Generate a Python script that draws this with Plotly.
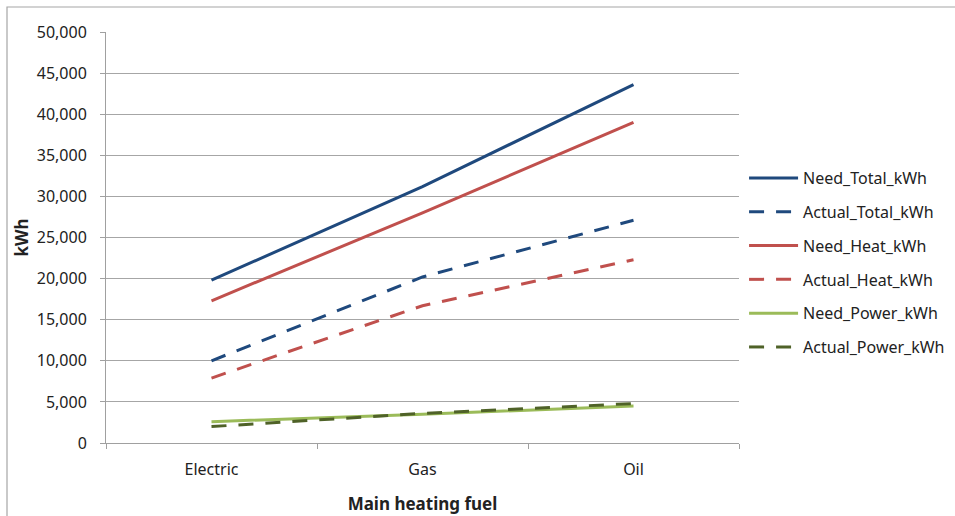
import plotly.graph_objects as go

# ── data ──────────────────────────────────────────────────────────────────────
fuels = ['Electric', 'Gas', 'Oil']

need_total   = [19800, 31200, 43600]
actual_total = [10000, 20200, 27100]
need_heat    = [17300, 28000, 39000]
actual_heat  = [7900, 16700, 22300]
need_power   = [2600, 3500, 4500]
actual_power = [2000, 3600, 4800]

series = [
    ('Need_Total_kWh',   need_total,   '#1F497D', 'solid'),
    ('Actual_Total_kWh', actual_total, '#1F497D', '15px,12px'),
    ('Need_Heat_kWh',    need_heat,    '#C0504D', 'solid'),
    ('Actual_Heat_kWh',  actual_heat,  '#C0504D', '15px,12px'),
    ('Need_Power_kWh',   need_power,   '#9BBB59', 'solid'),
    ('Actual_Power_kWh', actual_power, '#4F6228', '15px,12px'),
]

fig = go.Figure()
for name, vals, color, dash in series:
    fig.add_trace(go.Scatter(
        x=fuels, y=vals, mode='lines', name=name, legendgroup=name,
        line=dict(color=color, width=3, dash=dash),
    ))

# ── layout ────────────────────────────────────────────────────────────────────
L, R, T, B = 106, 216, 32, 73
W, H = 955, 516
pw, ph = W - L - R, H - T - B

fig.update_layout(
    width=W, height=H,
    margin=dict(l=L, r=R, t=T, b=B, autoexpand=False),
    paper_bgcolor='white', plot_bgcolor='white',
    font=dict(family='Noto Sans', size=16, color='#222222'),
    legend=dict(x=1.008, y=0.686, xanchor='left', yanchor='top',
                itemwidth=49, tracegroupgap=10, font=dict(size=16)),
    shapes=[dict(type='rect', xref='paper', yref='paper',
                 x0=(7 - L) / pw, x1=(W + 5 - L) / pw,
                 y0=(T + ph - H - 5) / ph, y1=(T + ph - 7) / ph,
                 line=dict(color='#A6A6A6', width=1.2))],
)

fig.update_xaxes(
    range=[-0.5, 2.5], showgrid=False, showline=True, linecolor='#A0A0A0',
    ticks='outside', tickson='boundaries', ticklen=5, tickcolor='#A0A0A0',
    ticklabelstandoff=12, automargin=False,
    title=dict(text='<b>Main heating fuel</b>', font=dict(size=17), standoff=18),
)
fig.update_yaxes(
    range=[0, 50000], dtick=5000, tickformat=',', showgrid=True,
    gridcolor='#A6A6A6', showline=True, linecolor='#A0A0A0',
    ticks='outside', ticklen=5, tickcolor='#A0A0A0', zeroline=False,
    ticklabelstandoff=10, automargin=False,
    title=dict(text='<b>kWh</b>', font=dict(size=17), standoff=3),
)

fig.write_html('out.html', config={'displayModeBar': False},
               post_script="document.body.style.margin='0';")
